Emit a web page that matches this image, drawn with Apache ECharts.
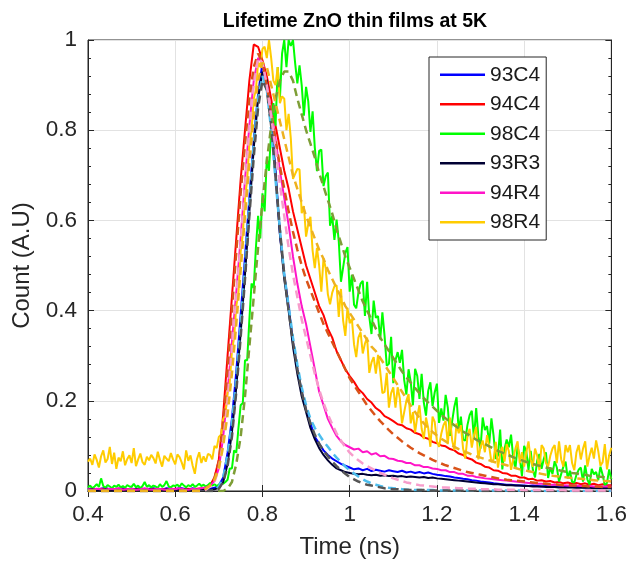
<!DOCTYPE html>
<html>
<head>
<meta charset="utf-8">
<script src="https://cdn.jsdelivr.net/npm/echarts@6/dist/echarts.min.js"></script>
<style>html,body{margin:0;padding:0;background:#fff;}#chart{width:630px;height:567px;}</style>
</head>
<body>
<div id="chart"></div>
<script>
// ---------- DATA ----------
const seriesNames = ['93C4','94C4','98C4','93R3','94R4','98R4'];
const xTicks = [0.4,0.6,0.8,1,1.2,1.4,1.6];
const yTicks = [0,0.2,0.4,0.6,0.8,1];

// time grid A: 0.40 .. 1.60 ns, step 0.01 ns
const gridAStart = 0.4, gridAStep = 0.01;
// time grid B: 0.40 .. 1.60 ns, step 0.005 ns
const gridBStart = 0.4, gridBStep = 0.005;

// measured decays (grid A)
const c93C4 = [
0.004,0.006,0.003,0.005,0.007,0.004,0.002,0.005,0.006,0.003,
0.005,0.004,0.007,0.003,0.005,0.006,0.004,0.003,0.006,0.005,
0.004,0.007,0.005,0.003,0.006,0.004,0.005,0.006,0.005,0.007,
0.012,0.03,0.085,0.16,0.265,0.39,0.52,0.65,0.78,0.88,
0.95,0.89,0.82,0.71,0.57,0.48,0.41,0.33,0.27,0.22,
0.18,0.15,0.12,0.105,0.09,0.08,0.072,0.066,0.06,0.056,
0.052,0.048,0.05,0.046,0.049,0.044,0.047,0.045,0.043,0.046,
0.044,0.042,0.045,0.041,0.043,0.04,0.042,0.039,0.041,0.038,
0.036,0.035,0.033,0.032,0.03,0.029,0.027,0.026,0.024,0.023,
0.021,0.02,0.019,0.017,0.016,0.015,0.014,0.014,0.013,0.012,
0.012,0.011,0.012,0.011,0.01,0.011,0.01,0.01,0.009,0.01,
0.009,0.01,0.009,0.009,0.008,0.009,0.008,0.009,0.008,0.008,
0.008];
const c94C4 = [
0.003,0.004,0.003,0.005,0.004,0.003,0.004,0.005,0.003,0.004,
0.004,0.003,0.005,0.004,0.003,0.004,0.005,0.004,0.003,0.004,
0.005,0.004,0.003,0.005,0.004,0.005,0.006,0.008,0.013,0.03,
0.07,0.17,0.30,0.43,0.56,0.69,0.80,0.91,0.99,0.985,
0.955,0.92,0.87,0.81,0.76,0.71,0.67,0.62,0.58,0.54,
0.50,0.47,0.44,0.41,0.39,0.36,0.34,0.31,0.29,0.27,
0.255,0.242,0.226,0.217,0.204,0.196,0.184,0.177,0.166,0.161,
0.155,0.148,0.146,0.139,0.136,0.129,0.126,0.119,0.116,0.109,
0.106,0.101,0.099,0.093,0.09,0.083,0.08,0.073,0.07,0.063,
0.06,0.054,0.052,0.046,0.045,0.04,0.039,0.034,0.034,0.03,
0.03,0.026,0.027,0.023,0.024,0.021,0.022,0.019,0.02,0.017,
0.019,0.016,0.018,0.015,0.017,0.014,0.016,0.013,0.015,0.013,
0.013];
const c93R3 = [
0.003,0.004,0.002,0.003,0.004,0.003,0.002,0.004,0.003,0.002,
0.003,0.004,0.003,0.002,0.004,0.003,0.002,0.003,0.004,0.003,
0.002,0.003,0.004,0.003,0.002,0.003,0.004,0.003,0.003,0.004,
0.007,0.02,0.06,0.13,0.23,0.35,0.48,0.62,0.76,0.87,
0.93,0.91,0.82,0.70,0.57,0.47,0.40,0.32,0.26,0.21,
0.175,0.14,0.115,0.095,0.08,0.068,0.058,0.05,0.046,0.042,
0.04,0.038,0.037,0.038,0.036,0.035,0.036,0.034,0.035,0.033,
0.034,0.032,0.033,0.031,0.032,0.031,0.03,0.031,0.029,0.03,
0.028,0.027,0.026,0.025,0.024,0.023,0.022,0.021,0.02,0.019,
0.018,0.017,0.016,0.015,0.015,0.014,0.013,0.013,0.012,0.012,
0.011,0.011,0.01,0.01,0.01,0.009,0.009,0.009,0.008,0.008,
0.008,0.008,0.007,0.007,0.007,0.007,0.006,0.006,0.006,0.006,
0.006];
const c94R4 = [
0.004,0.003,0.005,0.004,0.003,0.005,0.004,0.006,0.003,0.004,
0.005,0.003,0.004,0.006,0.004,0.003,0.005,0.004,0.003,0.005,
0.004,0.006,0.004,0.003,0.005,0.004,0.006,0.008,0.012,0.022,
0.05,0.12,0.22,0.33,0.44,0.56,0.69,0.81,0.91,0.96,
0.95,0.90,0.84,0.78,0.71,0.65,0.59,0.52,0.46,0.41,
0.37,0.32,0.27,0.22,0.19,0.16,0.14,0.122,0.11,0.102,
0.097,0.092,0.094,0.086,0.088,0.081,0.084,0.077,0.078,0.072,
0.071,0.067,0.066,0.062,0.062,0.057,0.057,0.053,0.053,0.05,
0.049,0.046,0.046,0.042,0.042,0.038,0.038,0.034,0.034,0.031,
0.03,0.028,0.027,0.026,0.025,0.024,0.023,0.022,0.021,0.02,
0.019,0.018,0.017,0.016,0.016,0.015,0.014,0.014,0.013,0.013,
0.012,0.012,0.012,0.011,0.011,0.011,0.01,0.01,0.01,0.01,
0.01];

// measured decays (grid B)
const c98C4 = [
0.008,0.012,0.006,0.01,0.015,0.009,0.028,0.011,0.007,0.013,
0.01,0.006,0.012,0.009,0.014,0.008,0.011,0.007,0.013,0.01,
0.009,0.016,0.008,0.012,0.006,0.011,0.02,0.009,0.013,0.008,
0.012,0.01,0.007,0.015,0.009,0.013,0.022,0.01,0.008,0.012,
0.011,0.014,0.009,0.017,0.012,0.008,0.013,0.01,0.015,0.009,
0.012,0.016,0.011,0.014,0.01,0.013,0.018,0.012,0.015,0.011,
0.014,0.017,0.016,0.02,
0.025,0.05,0.05,0.09,0.085,0.14,0.19,0.195,0.29,0.29,
0.38,0.46,0.45,0.54,0.61,0.56,0.66,0.62,0.74,0.71,
0.80,0.86,0.81,0.94,0.87,0.97,1.0,0.94,1.0,
0.987,1.0,0.948,0.904,0.944,0.90,0.832,0.896,0.864,0.796,
0.842,0.762,0.709,0.754,0.757,0.676,0.698,0.706,0.588,0.61,
0.557,0.602,0.554,0.464,0.496,0.528,0.541,0.442,0.479,0.413,
0.405,0.44,0.46,0.466,0.388,0.464,0.386,0.348,0.422,0.384,
0.388,0.336,0.396,0.344,0.278,0.282,0.342,0.239,0.29,0.308,
0.284,0.313,0.246,0.214,0.27,0.242,0.19,0.271,0.255,0.204,
0.26,0.196,0.167,0.222,0.241,0.188,0.219,0.238,0.151,0.183,
0.156,0.213,0.185,0.122,0.155,0.187,0.208,0.133,0.165,0.114,
0.112,0.146,0.168,0.178,0.115,0.184,0.121,0.094,0.163,0.135,
0.144,0.105,0.161,0.122,0.071,0.079,0.136,0.048,0.093,0.114,
0.097,0.125,0.073,0.05,0.098,0.075,0.033,0.10,0.088,0.047,
0.089,0.047,0.03,0.068,0.082,0.049,0.071,0.086,0.029,0.052,
0.038,0.066,0.052,0.021,0.038,0.054,0.065,0.028,0.045,0.02,
0.019,0.036,0.047,0.052,0.021,0.057,0.026,0.014,0.049,0.037,
0.042,0.024,0.054,0.036,0.012,0.018,0.048,0.026];
const c98R4 = [
0.065,0.072,0.058,0.081,0.069,0.052,0.077,0.09,0.063,0.071,
0.098,0.06,0.085,0.049,0.074,0.066,0.088,0.057,0.071,0.079,
0.062,0.095,0.055,0.07,0.083,0.064,0.058,0.076,0.068,0.08,
0.073,0.061,0.087,0.069,0.054,0.078,0.072,0.066,0.084,0.07,
0.059,0.081,0.075,0.063,0.048,0.09,0.067,0.079,0.056,0.038,
0.071,0.086,0.062,0.077,0.065,0.082,
0.08,0.07,0.1,0.095,0.12,0.125,0.16,0.17,0.22,0.24,
0.31,0.34,0.41,0.44,0.53,0.57,0.65,0.69,0.77,0.8,
0.87,0.89,0.95,0.94,0.98,
0.985,0.96,1.0,0.96,0.91,0.90,0.94,0.86,0.875,0.87,
0.80,0.836,0.782,0.692,0.703,0.714,0.713,0.616,0.632,0.564,
0.592,0.608,0.533,0.494,0.539,0.50,0.442,0.516,0.494,0.436,
0.414,0.44,0.454,0.456,0.386,0.448,0.378,0.344,0.406,0.372,
0.382,0.325,0.297,0.34,0.352,0.305,0.327,0.34,0.262,0.285,
0.297,0.26,0.302,0.265,0.217,0.22,0.262,0.185,0.217,0.23,
0.185,0.23,0.205,0.15,0.175,0.20,0.215,0.15,0.175,0.13,
0.165,0.19,0.138,0.115,0.163,0.14,0.098,0.165,0.153,0.11,
0.098,0.127,0.146,0.155,0.104,0.163,0.112,0.091,0.15,0.128,
0.146,0.094,0.072,0.12,0.138,0.096,0.124,0.142,0.07,0.098,
0.112,0.086,0.124,0.098,0.064,0.07,0.109,0.052,0.083,0.098,
0.065,0.104,0.088,0.047,0.071,0.094,0.11,0.062,0.086,0.054,
0.086,0.11,0.07,0.054,0.094,0.078,0.046,0.102,0.094,0.062,
0.054,0.078,0.094,0.102,0.062,0.11,0.07,0.054,0.102,0.086,
0.102,0.062,0.046,0.086,0.102,0.07,0.094,0.11,0.054,0.078,
0.096,0.072,0.112,0.088,0.056,0.064,0.104,0.048,0.08,0.096];

// fitted curves (grid A)
const fit93C4 = [
0,0,0,0,0,0,0,0,0,0,
0,0,0,0,0,0,0,0,0,0,
0,0,0,0,0,0,0,0,0,0,
0.01,0.03,0.08,0.15,0.25,0.37,0.5,0.64,0.77,0.87,
0.92,0.89,0.8,0.69,0.58,0.48,0.41,0.34,0.28,0.23,
0.19,0.16,0.14,0.125,0.11,0.098,0.085,0.074,0.064,0.054,
0.046,0.039,0.032,0.026,0.021,0.017,0.014,0.011,0.009,0.007,
0.006,0.005,0.004,0.003,0.003,0.002,0.002,0.002,0.002,0.002,
0.001,0.001,0.001,0.001,0.001,0.001,0.001,0.001,0.001,0.001,
0.001,0.001,0.001,0.001,0.001,0.001,0.001,0.001,0.001,0.001,
0,0,0,0,0,0,0,0,0,0,
0,0,0,0,0,0,0,0,0,0,
0];
const fit94C4 = [
0,0,0,0,0,0,0,0,0,0,
0,0,0,0,0,0,0,0,0,0,
0,0,0,0,0,0,0,0.005,0.012,0.028,
0.065,0.15,0.27,0.4,0.53,0.66,0.77,0.87,0.94,0.97,
0.95,0.9,0.84,0.78,0.72,0.67,0.62,0.575,0.535,0.5,
0.47,0.445,0.42,0.395,0.37,0.35,0.33,0.31,0.29,0.27,
0.25,0.235,0.22,0.205,0.19,0.178,0.166,0.155,0.145,0.135,
0.126,0.118,0.11,0.103,0.096,0.09,0.084,0.079,0.074,0.069,
0.065,0.061,0.057,0.054,0.051,0.048,0.045,0.042,0.04,0.038,
0.036,0.034,0.032,0.03,0.028,0.027,0.025,0.024,0.023,0.022,
0.021,0.02,0.019,0.018,0.017,0.016,0.015,0.015,0.014,0.013,
0.013,0.012,0.012,0.011,0.011,0.01,0.01,0.01,0.009,0.009,
0.009];
const fit98C4 = [
0,0,0,0,0,0,0,0,0,0,
0,0,0,0,0,0,0,0,0,0,
0,0,0,0,0,0,0,0,0,0,
0,0,0.005,0.02,0.06,0.12,0.21,0.32,0.43,0.54,
0.64,0.73,0.81,0.87,0.91,0.93,0.93,0.91,0.87,0.835,
0.8,0.77,0.74,0.705,0.675,0.645,0.615,0.58,0.55,0.52,
0.495,0.47,0.445,0.42,0.4,0.38,0.36,0.34,0.325,0.31,
0.295,0.28,0.265,0.252,0.24,0.228,0.217,0.206,0.196,0.187,
0.178,0.169,0.161,0.153,0.146,0.139,0.132,0.126,0.12,0.114,
0.109,0.104,0.099,0.094,0.089,0.085,0.081,0.077,0.073,0.07,
0.066,0.063,0.06,0.057,0.055,0.052,0.05,0.048,0.046,0.044,
0.042,0.04,0.039,0.037,0.036,0.034,0.033,0.032,0.031,0.03,
0.029];
const fit93R3 = [
0,0,0,0,0,0,0,0,0,0,
0,0,0,0,0,0,0,0,0,0,
0,0,0,0,0,0,0,0,0,0,
0.005,0.02,0.055,0.12,0.22,0.34,0.47,0.61,0.74,0.85,
0.91,0.89,0.81,0.7,0.58,0.48,0.4,0.33,0.27,0.22,
0.18,0.15,0.125,0.105,0.09,0.077,0.065,0.055,0.046,0.038,
0.031,0.026,0.021,0.017,0.014,0.012,0.01,0.008,0.006,0.005,
0.004,0.004,0.003,0.003,0.002,0.002,0.002,0.002,0.001,0.001,
0.001,0.001,0.001,0.001,0.001,0.001,0.001,0.001,0.001,0.001,
0,0,0,0,0,0,0,0,0,0,
0,0,0,0,0,0,0,0,0,0,
0,0,0,0,0,0,0,0,0,0,
0];
const fit94R4 = [
0,0,0,0,0,0,0,0,0,0,
0,0,0,0,0,0,0,0,0,0,
0,0,0,0,0,0,0,0.003,0.01,0.02,
0.05,0.11,0.2,0.31,0.43,0.55,0.68,0.8,0.9,0.96,
0.95,0.9,0.83,0.76,0.68,0.61,0.54,0.48,0.43,0.38,
0.34,0.3,0.26,0.225,0.195,0.17,0.148,0.128,0.112,0.097,
0.085,0.076,0.068,0.061,0.055,0.05,0.045,0.04,0.036,0.032,
0.028,0.025,0.022,0.019,0.017,0.015,0.013,0.012,0.011,0.01,
0.009,0.008,0.008,0.007,0.007,0.006,0.006,0.005,0.005,0.005,
0.004,0.004,0.004,0.004,0.003,0.003,0.003,0.003,0.003,0.003,
0.002,0.002,0.002,0.002,0.002,0.002,0.002,0.002,0.002,0.002,
0.001,0.001,0.001,0.001,0.001,0.001,0.001,0.001,0.001,0.001,
0.001];
const fit98R4 = [
0,0,0,0,0,0,0,0,0,0,
0,0,0,0,0,0,0,0,0,0,
0,0,0,0,0,0,0,0.005,0.012,0.025,
0.05,0.1,0.17,0.26,0.37,0.49,0.61,0.73,0.83,0.91,
0.95,0.94,0.9,0.86,0.82,0.78,0.74,0.7,0.67,0.64,
0.61,0.585,0.56,0.535,0.515,0.49,0.47,0.45,0.43,0.41,
0.395,0.38,0.365,0.35,0.335,0.32,0.31,0.295,0.28,0.265,
0.25,0.235,0.22,0.205,0.19,0.175,0.162,0.15,0.14,0.131,
0.123,0.116,0.11,0.104,0.098,0.093,0.089,0.085,0.081,0.077,
0.074,0.071,0.068,0.065,0.062,0.06,0.057,0.054,0.051,0.048,
0.046,0.044,0.042,0.04,0.038,0.036,0.035,0.033,0.032,0.031,
0.03,0.029,0.028,0.027,0.026,0.025,0.024,0.023,0.022,0.022,
0.021];

// ---------- CHART ----------
function onGrid(start, step, vals) {
  return vals.map(function (v, i) { return [+(start + i * step).toFixed(3), v]; });
}
const FONT = '"Liberation Sans", Arial, Helvetica, sans-serif';
const TXT = '#262626';

const dataDefs = [
  {name: '93C4', vals: c93C4, grid: 'A', color: '#0000FF'},
  {name: '94C4', vals: c94C4, grid: 'A', color: '#FF0000'},
  {name: '98C4', vals: c98C4, grid: 'B', color: '#00FF00'},
  {name: '93R3', vals: c93R3, grid: 'A', color: '#000033'},
  {name: '94R4', vals: c94R4, grid: 'A', color: '#FF14C8'},
  {name: '98R4', vals: c98R4, grid: 'B', color: '#FFCC00'}
];
const fitDefs = [
  {name: 'fit 93C4', vals: fit93C4, color: '#4DBEEE'},
  {name: 'fit 94C4', vals: fit94C4, color: '#D95319'},
  {name: 'fit 98C4', vals: fit98C4, color: '#7E9E36'},
  {name: 'fit 93R3', vals: fit93R3, color: '#555555'},
  {name: 'fit 94R4', vals: fit94R4, color: '#F79CCB'},
  {name: 'fit 98R4', vals: fit98R4, color: '#EDB120'}
];

const series = [];
dataDefs.forEach(function (d) {
  series.push({
    name: d.name, type: 'line', showSymbol: false, silent: true,
    data: d.grid === 'A' ? onGrid(gridAStart, gridAStep, d.vals) : onGrid(gridBStart, gridBStep, d.vals),
    lineStyle: {color: d.color, width: 2}, itemStyle: {color: d.color},
    emphasis: {disabled: true}
  });
});
fitDefs.forEach(function (d) {
  series.push({
    name: d.name, type: 'line', showSymbol: false, silent: true,
    data: onGrid(gridAStart, gridAStep, d.vals),
    lineStyle: {color: d.color, width: 2.5, type: [8, 5]}, itemStyle: {color: d.color},
    emphasis: {disabled: true}
  });
});

const fmt = function (v) { return String(+v.toFixed(1)); };
const axisLineStyle = {lineStyle: {color: TXT, width: 1}};

const option = {
  animation: false,
  backgroundColor: '#ffffff',
  title: {
    text: 'Lifetime ZnO thin films at 5K', left: 350, top: 7, textAlign: 'center',
    textStyle: {fontFamily: FONT, fontSize: 19.5, fontWeight: 'bold', color: '#000'}
  },
  grid: {left: 88, right: 17, top: 40, bottom: 76, show: true, borderColor: TXT, borderWidth: 1, backgroundColor: '#fff'},
  legend: {
    data: seriesNames, orient: 'vertical', left: 429, top: 57,
    padding: [7, 6, 7, 11], itemGap: 8, itemWidth: 45, itemHeight: 2.5, icon: 'rect',
    backgroundColor: '#fff', borderColor: TXT, borderWidth: 1, borderRadius: 0,
    selectedMode: false,
    textStyle: {fontFamily: FONT, fontSize: 21, color: '#1a1a1a', lineHeight: 21.5}
  },
  xAxis: [{
    type: 'value', min: xTicks[0], max: xTicks[xTicks.length - 1], interval: 0.2,
    name: 'Time (ns)', nameLocation: 'middle', nameGap: 44,
    nameTextStyle: {fontFamily: FONT, fontSize: 24, color: TXT},
    axisLine: axisLineStyle,
    axisTick: {inside: true, length: 6, lineStyle: {color: TXT}},
    axisLabel: {formatter: fmt, margin: 12, fontFamily: FONT, fontSize: 22.5, color: TXT},
    splitLine: {show: true, lineStyle: {color: '#e2e2e2', width: 1}}
  }, {
    type: 'value', position: 'top', min: xTicks[0], max: xTicks[xTicks.length - 1], interval: 0.2,
    axisLine: axisLineStyle,
    axisTick: {inside: true, length: 6, lineStyle: {color: TXT}},
    axisLabel: {show: false}, splitLine: {show: false}
  }],
  yAxis: [{
    type: 'value', min: yTicks[0], max: yTicks[yTicks.length - 1], interval: 0.2,
    name: 'Count (A.U)', nameLocation: 'middle', nameGap: 46, nameRotate: 90,
    nameTextStyle: {fontFamily: FONT, fontSize: 24, color: TXT},
    axisLine: axisLineStyle,
    axisTick: {inside: true, length: 6, lineStyle: {color: TXT}},
    minorTick: {show: true, splitNumber: 5, length: 3, lineStyle: {color: TXT}},
    axisLabel: {formatter: fmt, margin: 11, fontFamily: FONT, fontSize: 22.5, color: TXT},
    splitLine: {show: true, lineStyle: {color: '#e2e2e2', width: 1}}
  }, {
    type: 'value', position: 'right', min: yTicks[0], max: yTicks[yTicks.length - 1], interval: 0.2,
    axisLine: axisLineStyle,
    axisTick: {inside: true, length: 6, lineStyle: {color: TXT}},
    minorTick: {show: true, splitNumber: 5, length: 3, lineStyle: {color: TXT}},
    axisLabel: {show: false}, splitLine: {show: false}
  }],
  series: series
};

const chart = echarts.init(document.getElementById('chart'), null, {renderer: 'canvas'});
chart.setOption(option);
</script>
</body>
</html>
